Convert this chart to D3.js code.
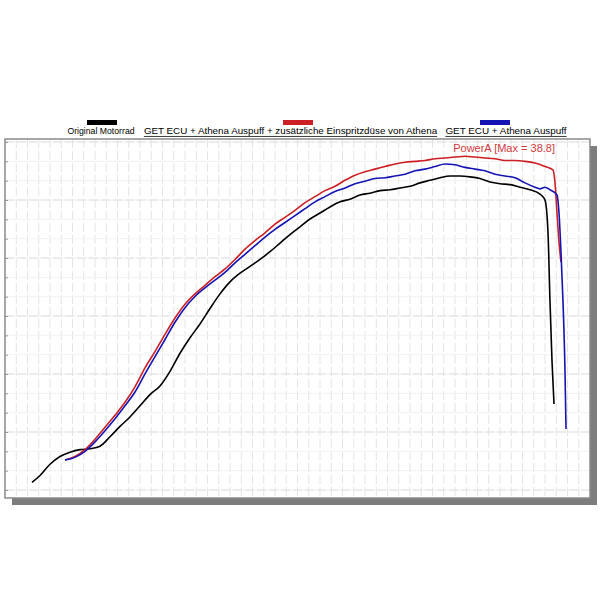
<!DOCTYPE html>
<html>
<head>
<meta charset="utf-8">
<script src="https://cdn.jsdelivr.net/npm/d3@7"></script>
<style>
  body { margin: 0; background: #fff; }
  text { font-family: "Liberation Sans", Arial, sans-serif; }
</style>
</head>
<body>
<div id="chart"></div>
<script>
// series names
var seriesNames = ["Original Motorrad",
  "GET ECU + Athena Auspuff + zusätzliche Einspritzdüse von Athena",
  "GET ECU + Athena Auspuff"]
var seriesColors = ["#000000", "#cc1f24", "#1414b4"]

// Original Motorrad: rpm / power
var rpmOriginal = [1540, 1700, 1900, 2100, 2300, 2500, 2700, 2900, 3100, 3300, 3500, 3700, 3900, 4100, 4300,
  4500, 4700, 4900, 5100, 5300, 5500, 5700, 5900, 6100, 6300, 6500, 6700, 6900, 7100, 7300, 7500, 7700, 7900,
  8100, 8300, 8500, 8700, 8900, 9100, 9300, 9500, 9700, 9900, 10100, 10300, 10500, 10700, 10900, 11100, 11300,
  11500, 11700, 11800, 11860, 11900, 11940, 11980]
var powerOriginal = [0.9, 1.7, 3.0, 3.9, 4.4, 4.7, 4.8, 5.1, 6.2, 7.4, 8.5, 9.8, 11.1, 12.1, 13.8,
  15.9, 17.7, 19.3, 21.1, 22.8, 24.2, 25.2, 26.0, 26.8, 27.7, 28.7, 29.7, 30.6, 31.5, 32.2, 32.9, 33.5, 33.8,
  34.3, 34.5, 34.8, 34.9, 35.1, 35.3, 35.7, 36.0, 36.3, 36.5, 36.5, 36.4, 36.2, 35.8, 35.6, 35.5, 35.2,
  34.9, 34.4, 33.7, 29.9, 21.9, 15.0, 10.0]

// GET ECU + Auspuff + Einspritzduese
var rpmFull = [2200, 2400, 2600, 2800, 3000, 3200, 3400, 3600, 3800, 4000, 4200, 4400, 4600, 4800, 5000,
  5200, 5400, 5600, 5800, 6000, 6200, 6400, 6600, 6800, 7000, 7200, 7400, 7600, 7800, 8000, 8200, 8400,
  8600, 8800, 9000, 9200, 9400, 9600, 9800, 10000, 10200, 10400, 10600, 10800, 11000, 11200, 11400, 11600,
  11800, 11960, 12000, 12040, 12080, 12120]
var powerFull = [3.5, 3.9, 4.7, 5.9, 7.3, 8.7, 10.2, 12.0, 14.2, 16.1, 18.1, 20.0, 21.6, 22.8, 23.8,
  24.8, 25.7, 26.8, 28.0, 29.0, 29.9, 30.9, 31.7, 32.5, 33.4, 34.1, 34.8, 35.3, 36.0, 36.6, 37.0, 37.3,
  37.6, 37.9, 38.1, 38.2, 38.3, 38.5, 38.6, 38.7, 38.8, 38.7, 38.6, 38.5, 38.3, 38.3, 38.2, 38.0,
  37.6, 37.2, 35.7, 32.2, 28.8, 26.5]

// GET ECU + Auspuff
var rpmEcu = [2200, 2400, 2600, 2800, 3000, 3200, 3400, 3600, 3800, 4000, 4200, 4400, 4600, 4800, 5000,
  5200, 5400, 5600, 5800, 6000, 6200, 6400, 6600, 6800, 7000, 7200, 7400, 7600, 7800, 8000, 8200, 8400,
  8600, 8800, 9000, 9200, 9400, 9600, 9800, 10000, 10200, 10400, 10600, 10800, 11000, 11200, 11400, 11600,
  11700, 11800, 11900, 12040, 12080, 12120, 12160, 12200, 12220]
var powerEcu = [3.5, 3.8, 4.5, 5.6, 6.9, 8.3, 9.8, 11.4, 13.5, 15.5, 17.5, 19.5, 21.2, 22.5, 23.5,
  24.4, 25.3, 26.4, 27.4, 28.4, 29.4, 30.3, 31.1, 31.9, 32.7, 33.5, 34.1, 34.7, 35.1, 35.6, 35.9, 36.2,
  36.3, 36.5, 36.7, 37.1, 37.3, 37.6, 37.9, 37.8, 37.5, 37.3, 37.1, 36.7, 36.5, 36.3, 35.7, 35.2,
  35.0, 35.2, 34.9, 34.3, 32.2, 27.6, 21.9, 13.8, 7.1]

var maxLabel = "PowerA [Max = 38.8]"

var width = 600, height = 600
var pLeft = 5, pRight = 590, pTop = 139, pBottom = 498
var yMin = -0.92, yMax = 40.8

var svg = d3.select("#chart").append("svg")
    .attr("width", width)
    .attr("height", height)

var x = d3.scaleLinear().domain([1000, 12700]).range([pLeft, pRight])
var y = d3.scaleLinear().domain([yMin, yMax]).range([pBottom, pTop])

// drop shadow
svg.append("rect")
    .attr("x", pLeft + 7).attr("y", pTop + 7)
    .attr("width", pRight - pLeft).attr("height", pBottom - pTop)
    .attr("fill", "#7d7d7d")

svg.append("rect")
    .attr("x", pLeft).attr("y", pTop)
    .attr("width", pRight - pLeft).attr("height", pBottom - pTop)
    .attr("fill", "#fff")

// grid
var grid = svg.append("g")
grid.selectAll(".vg")
    .data(d3.range(1225, 12700, 225))
    .enter().append("line")
    .attr("x1", d => x(d)).attr("x2", d => x(d))
    .attr("y1", pTop).attr("y2", pBottom)
    .attr("stroke", "#e4e4e4")
    .attr("stroke-dasharray", "9,3")

var hStep = 58 / ((pBottom - pTop) / (yMax - yMin))
var hStart = y.invert(490)
grid.selectAll(".hgMinor")
    .data(d3.range(hStart, yMax, hStep / 3))
    .enter().append("line")
    .attr("x1", pLeft).attr("x2", pRight)
    .attr("y1", d => y(d)).attr("y2", d => y(d))
    .attr("stroke", "#f2f2f2")
grid.selectAll(".hg")
    .data(d3.range(hStart, yMax, hStep))
    .enter().append("line")
    .attr("x1", pLeft).attr("x2", pRight)
    .attr("y1", d => y(d)).attr("y2", d => y(d))
    .attr("stroke", "#dedede")
    .attr("stroke-dasharray", "9,3")

// small ticks on left border
svg.append("g")
    .attr("transform", "translate(" + pLeft + ",0)")
    .call(d3.axisRight(y).tickValues(d3.range(hStart, yMax, hStep / 3)).tickSize(3).tickFormat(""))
    .call(g => g.select(".domain").remove())
    .selectAll("line").attr("stroke", "#999")

// frame
svg.append("rect")
    .attr("x", pLeft).attr("y", pTop)
    .attr("width", pRight - pLeft).attr("height", pBottom - pTop)
    .attr("fill", "none")
    .attr("stroke", "#8a8a8a")
    .attr("stroke-width", 1.5)

// lines
var series = [
  d3.zip(rpmOriginal, powerOriginal),
  d3.zip(rpmFull, powerFull),
  d3.zip(rpmEcu, powerEcu)
]
var line = d3.line()
    .x(d => x(d[0]))
    .y(d => y(d[1]))
    .curve(d3.curveMonotoneX)

svg.selectAll(".series")
    .data(series)
    .enter().append("path")
    .attr("d", d => line(d))
    .attr("fill", "none")
    .attr("stroke", (d, i) => seriesColors[i])
    .attr("stroke-width", 1.6)
    .attr("stroke-linejoin", "round")

// max annotation
svg.append("text")
    .attr("x", 555).attr("y", 152)
    .attr("text-anchor", "end")
    .attr("font-size", 11)
    .attr("fill", "#d4383c")
    .text(maxLabel)

// legend
var legendText = [101, 290.5, 506]
var legendSwatch = [102, 298, 495]
var legendSize = [8.7, 9.8, 9.9]
var legend = svg.append("g")
seriesNames.forEach(function (name, i) {
    legend.append("rect")
        .attr("x", legendSwatch[i] - 15).attr("y", 120)
        .attr("width", 30).attr("height", 5)
        .attr("fill", seriesColors[i])
    var t = legend.append("text")
        .attr("x", legendText[i]).attr("y", 134)
        .attr("text-anchor", "middle")
        .attr("font-size", legendSize[i])
        .attr("fill", "#000")
        .text(name)
    if (i > 0) {
        var w = t.node().getComputedTextLength()
        legend.append("line")
            .attr("x1", legendText[i] - w / 2).attr("x2", legendText[i] + w / 2)
            .attr("y1", 136.5).attr("y2", 136.5)
            .attr("stroke", "#444")
            .attr("stroke-width", 1)
    }
})
</script>
</body>
</html>
